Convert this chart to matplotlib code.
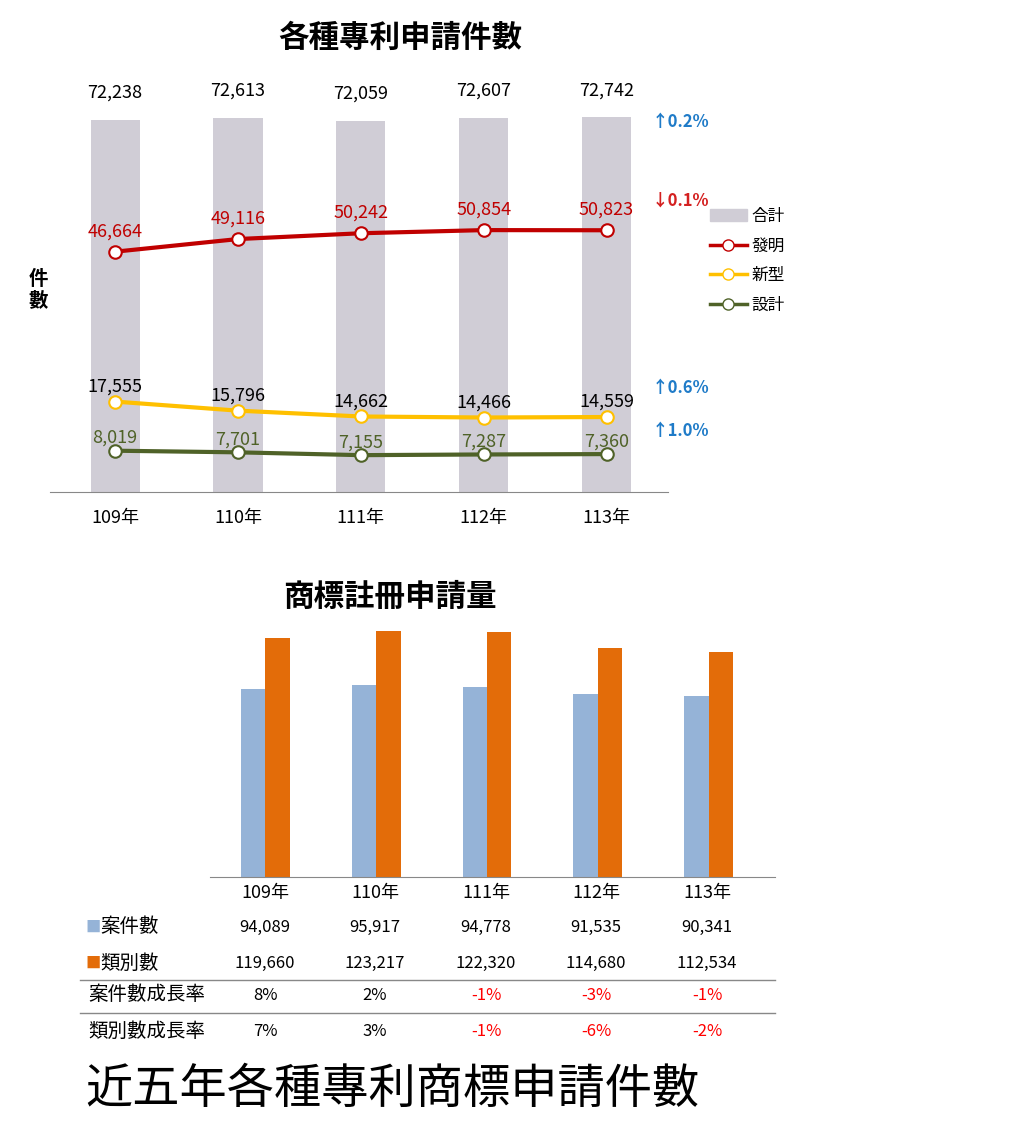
import matplotlib
matplotlib.use("Agg")
import matplotlib.pyplot as plt
from matplotlib.lines import Line2D
from matplotlib.patches import Patch

plt.rcParams['font.family'] = ['Noto Sans CJK JP', 'Noto Sans CJK TC', 'Noto Sans CJK SC', 'DejaVu Sans']

years = ["109年", "110年", "111年", "112年", "113年"]
total = [72238, 72613, 72059, 72607, 72742]
invention = [46664, 49116, 50242, 50854, 50823]
utility = [17555, 15796, 14662, 14466, 14559]
design = [8019, 7701, 7155, 7287, 7360]
growth_labels = ["↑0.2%", "↓0.1%", "↑0.6%", "↑1.0%"]
growth_colors = ["#1f7bc8", "#d42020", "#1f7bc8", "#1f7bc8"]

tm_cases = [94089, 95917, 94778, 91535, 90341]
tm_classes = [119660, 123217, 122320, 114680, 112534]
tm_case_growth = ["8%", "2%", "-1%", "-3%", "-1%"]
tm_class_growth = ["7%", "3%", "-1%", "-6%", "-2%"]

W, H = 1024, 1147
fig = plt.figure(figsize=(W/100, H/100), dpi=100)

def px_axes(x0, y0, x1, y1):
    return fig.add_axes([x0/W, 1-y1/H, (x1-x0)/W, (y1-y0)/H])

def ftext(x, y, s, **kw):
    fig.text(x/W, 1-y/H, s, **kw)

# ---------- top chart ----------
ax = px_axes(50, 80, 668, 492)
x = list(range(5))
ax.bar(x, total, width=0.4, color="#d0cdd6", zorder=1)
red, yel, grn = "#c00000", "#ffc000", "#4f6228"
ax.plot(x, invention, color=red, lw=3, marker='o', ms=9, mfc='white', mec=red, mew=1.5, zorder=3)
ax.plot(x, utility, color=yel, lw=3, marker='o', ms=9, mfc='white', mec=yel, mew=1.5, zorder=3)
ax.plot(x, design, color=grn, lw=3, marker='o', ms=9, mfc='white', mec=grn, mew=1.5, zorder=3)
ax.set_xlim(-0.53, 4.5)
ax.set_ylim(0, 80000)
for i in x:
    ax.text(i, total[i]+3500, f"{total[i]:,}", ha='center', va='bottom', fontsize=13, color='black')
    ax.text(i, invention[i]+2200, f"{invention[i]:,}", ha='center', va='bottom', fontsize=13, color=red)
    ax.text(i, utility[i]+1200, f"{utility[i]:,}", ha='center', va='bottom', fontsize=13, color='black')
    ax.text(i, design[i]+700, f"{design[i]:,}", ha='center', va='bottom', fontsize=13, color=grn)
for s in ['top', 'right', 'left']:
    ax.spines[s].set_visible(False)
ax.spines['bottom'].set_color('#888888')
ax.set_yticks([])
ax.set_xticks(x)
ax.set_xticklabels(years, fontsize=13)
ax.tick_params(axis='x', length=0, pad=12)

ftext(400, 38, "各種專利申請件數", fontsize=22, fontweight='bold', ha='center', va='center')
ftext(38, 290, "件\n數", fontsize=14, fontweight='bold', ha='center', va='center', linespacing=1.2)
for (yy, lab, c) in zip([122, 201, 388, 431], growth_labels, growth_colors):
    ftext(652, yy, lab, fontsize=12, fontweight='bold', color=c, ha='left', va='center')

handles = [Patch(color="#d0cdd6", label="合計"),
           Line2D([], [], color=red, lw=2.5, marker='o', mfc='white', ms=8, label="發明"),
           Line2D([], [], color=yel, lw=2.5, marker='o', mfc='white', ms=8, label="新型"),
           Line2D([], [], color=grn, lw=2.5, marker='o', mfc='white', ms=8, label="設計")]
fig.legend(handles=handles, loc='upper left', bbox_to_anchor=(695/W, 1-193/H), frameon=False,
           fontsize=12, handlelength=2.2, labelspacing=0.75, handletextpad=0.3)

# ---------- bottom chart ----------
ax2 = px_axes(210, 625, 775, 877)
bw = 0.22
ax2.bar([i-bw/2 for i in x], tm_cases, width=bw, color="#95b3d7")
ax2.bar([i+bw/2 for i in x], tm_classes, width=bw, color="#e36c09")
ax2.set_xlim(-0.5, 4.6)
ax2.set_ylim(0, 126000)
for s in ['top', 'right', 'left']:
    ax2.spines[s].set_visible(False)
ax2.spines['bottom'].set_color('#888888')
ax2.set_yticks([]); ax2.set_xticks([])
ftext(390, 597, "商標註冊申請量", fontsize=22, fontweight='bold', ha='center', va='center')

cols = [265, 375, 486, 596, 707]
for i, cx in enumerate(cols):
    ftext(cx, 893, years[i], fontsize=13, ha='center', va='center')
    ftext(cx, 927, f"{tm_cases[i]:,}", fontsize=12, ha='center', va='center')
    ftext(cx, 963, f"{tm_classes[i]:,}", fontsize=12, ha='center', va='center')
    c1 = 'red' if tm_case_growth[i].startswith('-') else 'black'
    c2 = 'red' if tm_class_growth[i].startswith('-') else 'black'
    ftext(cx, 995, tm_case_growth[i], fontsize=12, ha='center', va='center', color=c1)
    ftext(cx, 1031, tm_class_growth[i], fontsize=12, ha='center', va='center', color=c2)
ftext(85, 927, "■", fontsize=11, color="#95b3d7", ha='left', va='center')
ftext(100, 927, "案件數", fontsize=14, ha='left', va='center')
ftext(85, 963, "■", fontsize=11, color="#e36c09", ha='left', va='center')
ftext(100, 963, "類別數", fontsize=14, ha='left', va='center')
ftext(88, 995, "案件數成長率", fontsize=14, ha='left', va='center')
ftext(88, 1031, "類別數成長率", fontsize=14, ha='left', va='center')
for yy in [980, 1013]:
    fig.add_artist(Line2D([80/W, 775/W], [1-yy/H, 1-yy/H], color='#888888', lw=1))

ftext(85, 1090, "近五年各種專利商標申請件數", fontsize=34, ha='left', va='center')

fig.savefig("out.png", dpi=100, facecolor='white')
